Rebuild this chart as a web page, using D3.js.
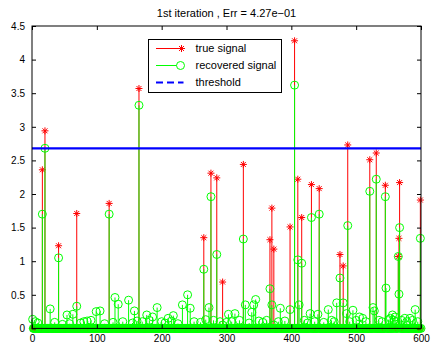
<!DOCTYPE html>
<html><head><meta charset="utf-8">
<script src="https://cdn.jsdelivr.net/npm/d3@7"></script>
<style>
html,body{margin:0;padding:0;background:#fff;}
svg{display:block;font-family:"Liberation Sans",Arial,Helvetica,sans-serif;}
</style></head>
<body><svg id="chart" width="432" height="352"></svg>
<script>
// ---- data ----
const N = 600;
const titleText = "1st iteration , Err = 4.27e\u221201";
const xTicks = [0, 100, 200, 300, 400, 500, 600];
const yTicks = [0, 0.5, 1, 1.5, 2, 2.5, 3, 3.5, 4, 4.5];
const threshold = 2.68;
const legendLabels = ["true signal", "recovered signal", "threshold"];

// non-zero entries of the true (sparse) signal
const trueIdx = [16, 20, 41, 69, 119, 165, 265, 276, 285, 294, 326, 367, 370, 373, 398, 405, 410, 416, 431, 443, 475, 480, 487, 521, 531, 545, 565, 566, 567, 599];
const trueVal = [2.36, 2.94, 1.23, 1.71, 1.86, 3.57, 1.35, 2.31, 2.24, 0.69, 2.44, 1.32, 1.79, 1.18, 1.51, 4.28, 2.22, 1.65, 2.14, 2.08, 1.10, 0.93, 2.73, 2.51, 2.61, 2.13, 1.07, 1.34, 2.17, 1.91];

// non-negligible entries of the recovered signal
const recIdx = [16, 20, 41, 69, 119, 165, 265, 276, 285, 294, 326, 367, 370, 373, 398, 405, 410, 416, 431, 443, 475, 480, 487, 521, 531, 545, 546, 565, 566, 567, 599,
  1, 28, 54, 63, 85, 99, 105, 128, 133, 149, 158, 162, 177, 186, 193, 210, 218, 232, 240, 244, 268, 273, 303, 313, 329, 339, 342, 345, 383, 412, 429, 441, 457, 470, 485, 495, 505, 510, 526, 528, 556, 560, 583, 591,
  5, 9, 35, 47, 58, 75, 80, 91, 112, 125, 140, 155, 170, 181, 200, 205, 215, 225, 250, 260, 280, 290, 300, 308, 320, 335, 350, 356, 362, 380, 390, 420, 425, 436, 450, 462, 466, 490, 500, 515, 535, 540, 550, 553, 558, 562, 570, 575, 578, 587, 595];
const recVal = [1.70, 2.68, 1.05, 0.33, 1.70, 3.32, 0.88, 1.96, 1.10, 0.05, 1.33, 0.59, 0.35, 0.05, 0.28, 3.62, 1.02, 0.97, 1.65, 1.70, 0.75, 0.38, 1.53, 2.04, 2.22, 1.96, 0.60, 1.07, 0.51, 1.50, 1.34,
  0.135, 0.29, 0.20, 0.21, 0.11, 0.25, 0.26, 0.46, 0.36, 0.42, 0.26, 0.11, 0.20, 0.17, 0.31, 0.15, 0.19, 0.35, 0.50, 0.30, 0.13, 0.31, 0.21, 0.22, 0.35, 0.24, 0.35, 0.43, 0.30, 0.35, 0.22, 0.21, 0.28, 0.38, 0.22, 0.27, 0.17, 0.15, 0.31, 0.26, 0.20, 0.17, 0.15, 0.28,
  0.10, 0.08, 0.09, 0.06, 0.07, 0.08, 0.10, 0.12, 0.07, 0.09, 0.10, 0.08, 0.10, 0.12, 0.10, 0.08, 0.11, 0.07, 0.10, 0.09, 0.12, 0.10, 0.09, 0.10, 0.12, 0.08, 0.11, 0.09, 0.12, 0.10, 0.11, 0.12, 0.08, 0.10, 0.09, 0.12, 0.10, 0.10, 0.12, 0.10, 0.12, 0.10, 0.13, 0.15, 0.12, 0.10, 0.12, 0.15, 0.10, 0.12, 0.10];

// full signals (zero where nothing is drawn above the baseline)
const trueSig = d3.range(1, N + 1).map(i => ({i, v: 0}));
trueIdx.forEach((k, j) => { trueSig[k - 1].v = trueVal[j]; });
const recSig = d3.range(1, N + 1).map(i => ({i, v: 0}));
recIdx.forEach((k, j) => { recSig[k - 1].v = recVal[j]; });

// ---- layout ----
const svg = d3.select("#chart");
const L = 32, R = 421, T = 26, B = 328.4;
const x = d3.scaleLinear().domain([0, 600]).range([L, R]);
const y = d3.scaleLinear().domain([0, 4.5]).range([B, T]);
const RED = "#ff0000", GREEN = "#00ff00", BLUE = "#0000ff";

svg.append("defs").append("clipPath").attr("id", "clip")
  .append("rect").attr("x", L - 5).attr("y", T).attr("width", R - L + 10).attr("height", B - T + 6);

function starPath(r) {
  const d = r * 0.7071;
  return `M${-r},0L${r},0M0,${-r}L0,${r}M${-d},${-d}L${d},${d}M${-d},${d}L${d},${-d}`;
}

const plot = svg.append("g").attr("clip-path", "url(#clip)");

// true signal stems
plot.append("g").selectAll("line").data(trueSig.filter(d => d.v > 0)).join("line")
  .attr("x1", d => x(d.i)).attr("x2", d => x(d.i))
  .attr("y1", y(0)).attr("y2", d => y(d.v))
  .attr("stroke", RED).attr("stroke-width", 1);
plot.append("g").selectAll("path").data(trueSig).join("path")
  .attr("transform", d => `translate(${x(d.i)},${y(d.v)})`)
  .attr("d", starPath(3.5)).attr("stroke", RED).attr("stroke-width", 1).attr("fill", "none");

// recovered signal stems
plot.append("g").selectAll("line").data(recSig.filter(d => d.v > 0)).join("line")
  .attr("x1", d => x(d.i)).attr("x2", d => x(d.i))
  .attr("y1", y(0)).attr("y2", d => y(d.v))
  .attr("stroke", GREEN).attr("stroke-width", 1);
plot.append("g").selectAll("circle").data(recSig).join("circle")
  .attr("cx", d => x(d.i)).attr("cy", d => y(d.v)).attr("r", 4)
  .attr("stroke", GREEN).attr("stroke-width", 1).attr("fill", "none");

// threshold
svg.append("line").attr("x1", x(0)).attr("x2", x(600))
  .attr("y1", y(threshold)).attr("y2", y(threshold))
  .attr("stroke", BLUE).attr("stroke-width", 2.2);

// axes
const fmt = d => d3.format("")(d);
const ax = svg.append("g").attr("font-size", 11);
ax.append("g").attr("transform", `translate(0,${B})`)
  .call(d3.axisBottom(x).tickValues(xTicks).tickSizeInner(-4).tickSizeOuter(0).tickPadding(7))
  .call(g => g.select(".domain").remove());
ax.append("g").attr("transform", `translate(0,${T})`)
  .call(d3.axisTop(x).tickValues(xTicks).tickSizeInner(-4).tickSizeOuter(0).tickFormat(""))
  .call(g => g.select(".domain").remove());
ax.append("g").attr("transform", `translate(${L},0)`)
  .call(d3.axisLeft(y).tickValues(yTicks).tickSizeInner(-4).tickSizeOuter(0).tickPadding(7).tickFormat(fmt))
  .call(g => g.select(".domain").remove());
ax.append("g").attr("transform", `translate(${R},0)`)
  .call(d3.axisRight(y).tickValues(yTicks).tickSizeInner(-4).tickSizeOuter(0).tickFormat(""))
  .call(g => g.select(".domain").remove());
ax.selectAll("text").attr("fill", "#000").attr("font-family", "Liberation Sans, Arial, sans-serif");
ax.selectAll(".tick line").attr("stroke", "#000");
svg.append("rect").attr("x", L).attr("y", T).attr("width", R - L).attr("height", B - T)
  .attr("fill", "none").attr("stroke", "#000").attr("stroke-width", 1);

// title
svg.append("text").attr("x", (L + R) / 2).attr("y", 17).attr("text-anchor", "middle")
  .attr("font-size", 11).text(titleText);

// legend
const lg = svg.append("g");
lg.append("rect").attr("x", 148.5).attr("y", 39.5).attr("width", 133).attr("height", 53)
  .attr("fill", "#fff").attr("stroke", "#000").attr("stroke-width", 1);
const rowsY = [48.5, 65.5, 82.5];
const lx1 = 156, lx2 = 181.5;
lg.append("line").attr("x1", lx1).attr("x2", lx2).attr("y1", rowsY[0]).attr("y2", rowsY[0]).attr("stroke", RED);
lg.append("path").attr("transform", `translate(${lx2},${rowsY[0]})`).attr("d", starPath(3.5)).attr("stroke", RED).attr("fill", "none");
lg.append("line").attr("x1", lx1).attr("x2", lx2).attr("y1", rowsY[1]).attr("y2", rowsY[1]).attr("stroke", GREEN);
lg.append("circle").attr("cx", lx2 - 1).attr("cy", rowsY[1]).attr("r", 4).attr("stroke", GREEN).attr("fill", "#fff");
lg.append("line").attr("x1", lx1).attr("x2", lx2 + 2).attr("y1", rowsY[2]).attr("y2", rowsY[2])
  .attr("stroke", BLUE).attr("stroke-width", 2.2).attr("stroke-dasharray", "7,4");
lg.selectAll("text.lab").data(legendLabels).join("text").attr("class", "lab")
  .attr("x", 195.5).attr("y", (d, i) => rowsY[i]).attr("dy", "0.35em")
  .attr("font-size", 11).text(d => d);
</script></body></html>
